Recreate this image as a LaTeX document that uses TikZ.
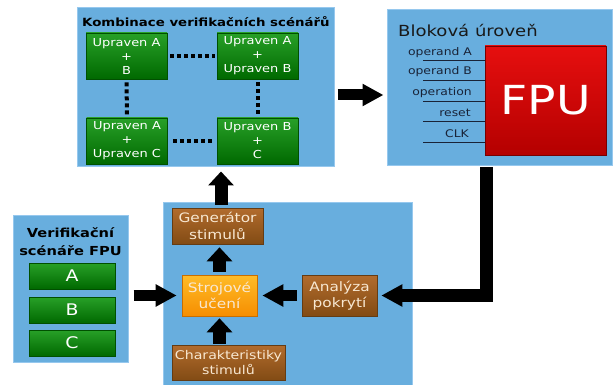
\documentclass[tikz,border=0pt]{standalone}
\usepackage{fontspec}
\setmainfont{DejaVu Sans}[FakeStretch=1.18]
\usetikzlibrary{arrows.meta}
\definecolor{panel}{RGB}{104,174,222}
\definecolor{panelEdge}{RGB}{150,200,238}
\definecolor{gtop}{RGB}{40,160,40}
\definecolor{gbot}{RGB}{0,105,0}
\definecolor{gedge}{RGB}{0,80,0}
\definecolor{btop}{RGB}{178,108,45}
\definecolor{bbot}{RGB}{130,75,20}
\definecolor{bedge}{RGB}{100,60,20}
\definecolor{otop}{RGB}{255,188,40}
\definecolor{obot}{RGB}{246,142,0}
\definecolor{oedge}{RGB}{200,110,0}
\definecolor{rtop}{RGB}{230,15,15}
\definecolor{rbot}{RGB}{180,0,0}
\definecolor{redge}{RGB}{120,0,0}
\definecolor{sig}{RGB}{25,35,55}
\definecolor{cream}{RGB}{248,232,210}
\begin{document}
\begin{tikzpicture}[x=1pt,y=-1pt,
  panelbox/.style={draw=panelEdge, line width=1pt, fill=panel, inner sep=0pt},
  gbox/.style={draw=gedge, line width=0.6pt, top color=gtop, bottom color=gbot, text=white, align=center, inner sep=0pt},
  bbox/.style={draw=bedge, line width=0.6pt, top color=btop, bottom color=bbot, text=cream, align=center, inner sep=0pt, font=\fontsize{13}{16.5}\selectfont},
  obox/.style={draw=oedge, line width=0.6pt, top color=otop, bottom color=obot, text=cream, align=center, inner sep=0pt, font=\fontsize{13}{16.5}\selectfont},
  txt/.style={inner sep=0pt},
  siglabel/.style={inner sep=0pt, text=sig, font=\fontsize{10.5}{12}\selectfont},
  sigline/.style={draw=sig, line width=1pt},
  dotline/.style={draw=black, line width=4pt, dash pattern=on 4pt off 3pt},
  harrow/.style={draw=black, line width=11pt, -{Triangle[length=21pt,width=21pt]}},
  varrow/.style={draw=black, line width=13pt, -{Triangle[length=14pt,width=25pt]}}
]
\useasboundingbox (0,0) rectangle (616,385);

% panels
\node[panelbox, minimum width=257pt, minimum height=159pt] (topbox) at (205.5,87.5) {};
\node[panelbox, minimum width=225pt, minimum height=156pt] (rightbox) at (499.5,88) {};
\node[panelbox, minimum width=115pt, minimum height=147pt] (leftbox) at (70.5,288.5) {};
\node[panelbox, minimum width=249pt, minimum height=184pt] (botbox) at (287.5,294) {};

% top panel
\node[txt, anchor=west, font=\bfseries\fontsize{11.3}{12}\selectfont] (toptitle) at (82,22) {Kombinace verifikačních scénářů};
\begin{scope}[every node/.append style={font=\fontsize{11}{14}\selectfont, minimum width=81pt, minimum height=46pt}]
\node[gbox] (tl) at (126.5,56) {Upraven A\\+\\B};
\node[gbox] (tr) at (257.5,56) {Upraven A\\+\\Upraven B};
\node[gbox] (bl) at (127,141) {Upraven A\\+\\Upraven C};
\node[gbox] (br) at (257.5,141) {Upraven B\\+\\C};
\end{scope}
\draw[dotline, shorten <=3pt, shorten >=2pt] (tl.east) -- (tr.west);
\draw[dotline, shorten <=5pt, shorten >=2pt] (bl.east) -- (br.west);
\draw[dotline, shorten <=3pt, shorten >=1pt] (tl.south) -- (bl.north);
\draw[dotline, shorten <=3pt, shorten >=1pt] (tr.south) -- (br.north);

% right panel
\node[txt, anchor=west, font=\fontsize{15.3}{18}\selectfont, text=black!90] (righttitle) at (398,30) {Bloková úroveň};
\node[draw=redge, line width=0.6pt, top color=rtop, bottom color=rbot, text=white, inner sep=0pt,
      minimum width=121pt, minimum height=109pt, font=\fontsize{40}{42}\selectfont] (fpu) at (545.5,100.5) {FPU};
\node[siglabel] (sa) at (440,53) {operand A};
\node[siglabel] (sb) at (440,72) {operand B};
\node[siglabel] (so) at (442,93) {operation};
\node[siglabel] (sr) at (455,113) {reset};
\node[siglabel] (sc) at (457,134) {CLK};
\foreach \yy in {61,81,102,122,143}{
  \draw[sigline] (423,\yy) -- (fpu.west |- 0,\yy);
}

% left panel
\node[txt, font=\bfseries\fontsize{12.4}{18}\selectfont, align=center] (lefttitle) at (70.5,242) {Verifikační\\scénáře FPU};
\begin{scope}[every node/.append style={font=\fontsize{16}{18}\selectfont, minimum width=86pt, minimum height=26pt}]
\node[gbox] (ga) at (72,276) {A};
\node[gbox] (gb) at (72,310) {B};
\node[gbox] (gc) at (72,343) {C};
\end{scope}

% bottom panel
\node[bbox, minimum width=91pt, minimum height=36pt] (gen) at (217.5,226) {Generátor\\stimulů};
\node[obox, minimum width=75pt, minimum height=41pt] (stroj) at (219.5,295.5) {Strojové\\učení};
\node[bbox, minimum width=75pt, minimum height=41pt] (anal) at (339.5,295.5) {Analýza\\pokrytí};
\node[bbox, minimum width=113pt, minimum height=35pt, font=\fontsize{12}{15}\selectfont] (char) at (228.5,362.5) {Charakteristiky\\stimulů};

% arrows
\draw[harrow, shorten <=3pt, shorten >=3pt] ([yshift=-7.5pt]topbox.east) -- ([yshift=-7.5pt]topbox.east -| rightbox.west);
\draw[varrow, shorten <=3pt, shorten >=4pt] ([xshift=3.5pt]gen.north) -- ([xshift=3.5pt]gen.north |- topbox.south);
\draw[varrow, shorten <=3pt, shorten >=3pt] (stroj.north) -- (stroj.north |- gen.south);
\draw[varrow, shorten <=1pt, shorten >=2pt] (stroj.south |- char.north) -- (stroj.south);
\draw[harrow, shorten <=5pt, shorten >=5pt] (anal.west) -- (stroj.east);
\draw[harrow, shorten <=5pt, shorten >=5pt] (leftbox.east |- stroj.west) -- (stroj.west);
\coordinate (elbowtop) at (486,167);
\draw[harrow, line width=13pt, shorten >=4pt] (elbowtop) |- (anal.east);
\end{tikzpicture}
\end{document}
